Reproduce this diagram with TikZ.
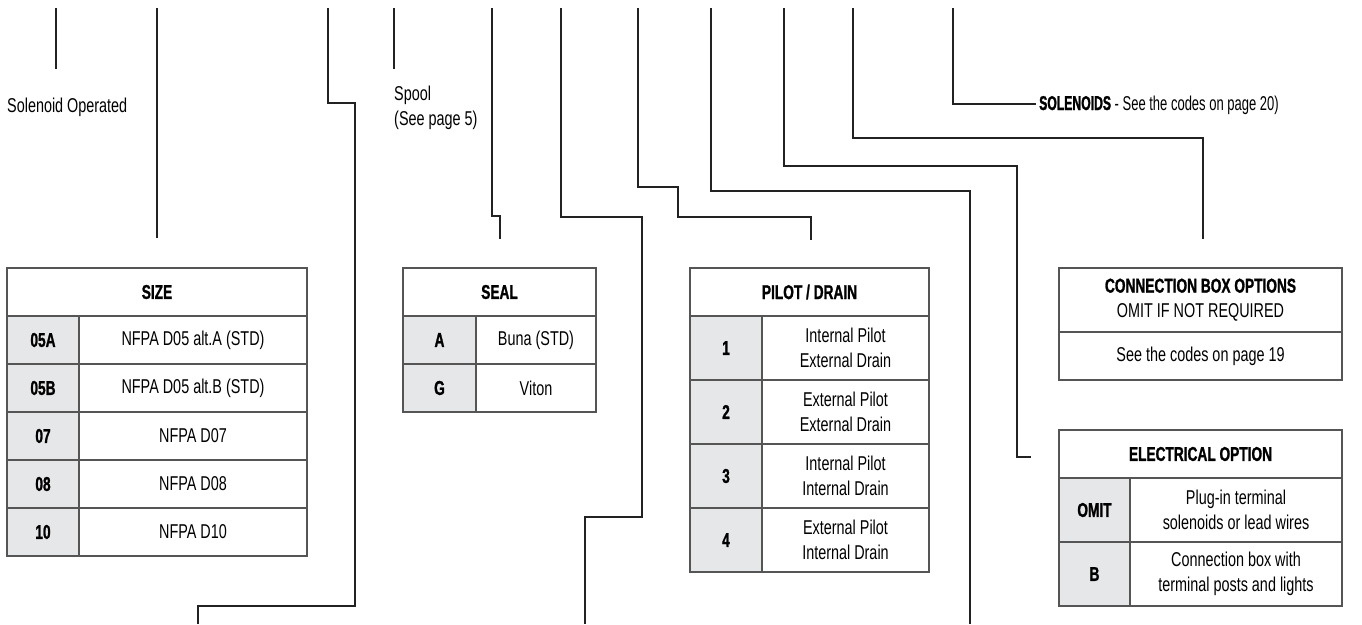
\documentclass[tikz,border=0pt]{standalone}
\usepackage{fontspec}
\setmainfont{Liberation Sans}[FakeStretch=0.72]
\newfontfamily\boldfam{Liberation Sans}[FakeStretch=0.685, BoldFeatures={FakeBold=1.2}]
\newfontfamily\narrowfam{Liberation Sans}[FakeStretch=0.65]
\newfontfamily\narrowboldfam{Liberation Sans}[FakeStretch=0.61, BoldFeatures={FakeBold=1.2}]
\definecolor{codegray}{HTML}{E6E7E9}
\definecolor{tabline}{HTML}{555555}
\definecolor{connline}{HTML}{222222}
\tikzset{
  txt/.style={inner sep=0pt, font=\fontsize{20}{25}\selectfont, align=left},
  cell/.style={draw=tabline, line width=1.1pt, inner sep=0pt, align=center, font=\fontsize{20}{25}\selectfont},
  hdrcell/.style={cell, font=\boldfam\bfseries\fontsize{20}{25}\selectfont},
  codecell/.style={hdrcell, fill=codegray},
  conn/.style={draw=connline, line width=1.1pt},
}
\begin{document}
\begin{tikzpicture}[x=1pt,y=-1pt]
\useasboundingbox (0,0) rectangle (1362,624);

% ---------- labels ----------
\node[txt, anchor=base west] (solop) at (7,112) {Solenoid Operated};
\node[txt, anchor=base west] (spool) at (394,125) {Spool\\(See page 5)};
\node[txt, anchor=base west, font=\narrowfam\fontsize{20}{25}\selectfont] (solen) at (1039,110) {{\narrowboldfam\bfseries SOLENOIDS} - See the codes on page 20)};

% ---------- SIZE ----------
\node[hdrcell, minimum width=300pt, minimum height=48pt] (sizeH) at (157,292) {SIZE};
\node[codecell, minimum width=72pt, minimum height=48pt] (s1c) at (43,340) {05A};
\node[cell, minimum width=228pt, minimum height=48pt] (s1d) at (193,340) {NFPA D05 alt.A (STD)};
\node[codecell, minimum width=72pt, minimum height=48pt] (s2c) at (43,388) {05B};
\node[cell, minimum width=228pt, minimum height=48pt] (s2d) at (193,388) {NFPA D05 alt.B (STD)};
\node[codecell, minimum width=72pt, minimum height=48pt] (s3c) at (43,436) {07};
\node[cell, minimum width=228pt, minimum height=48pt] (s3d) at (193,436) {NFPA D07};
\node[codecell, minimum width=72pt, minimum height=48pt] (s4c) at (43,484) {08};
\node[cell, minimum width=228pt, minimum height=48pt] (s4d) at (193,484) {NFPA D08};
\node[codecell, minimum width=72pt, minimum height=48pt] (s5c) at (43,532) {10};
\node[cell, minimum width=228pt, minimum height=48pt] (s5d) at (193,532) {NFPA D10};

% ---------- SEAL ----------
\node[hdrcell, minimum width=193pt, minimum height=48pt] (sealH) at (499.5,292) {SEAL};
\node[codecell, minimum width=73pt, minimum height=48pt] (e1c) at (439.5,340) {A};
\node[cell, minimum width=120pt, minimum height=48pt] (e1d) at (536,340) {Buna (STD)};
\node[codecell, minimum width=73pt, minimum height=48pt] (e2c) at (439.5,388) {G};
\node[cell, minimum width=120pt, minimum height=48pt] (e2d) at (536,388) {Viton};

% ---------- PILOT / DRAIN ----------
\node[hdrcell, minimum width=239pt, minimum height=48pt] (pilH) at (809.5,292) {PILOT / DRAIN};
\node[codecell, minimum width=72pt, minimum height=64pt] (p1c) at (726,348) {1};
\node[cell, minimum width=167pt, minimum height=64pt] (p1d) at (845.5,348) {Internal Pilot\\External Drain};
\node[codecell, minimum width=72pt, minimum height=64pt] (p2c) at (726,412) {2};
\node[cell, minimum width=167pt, minimum height=64pt] (p2d) at (845.5,412) {External Pilot\\External Drain};
\node[codecell, minimum width=72pt, minimum height=64pt] (p3c) at (726,476) {3};
\node[cell, minimum width=167pt, minimum height=64pt] (p3d) at (845.5,476) {Internal Pilot\\Internal Drain};
\node[codecell, minimum width=72pt, minimum height=64pt] (p4c) at (726,540) {4};
\node[cell, minimum width=167pt, minimum height=64pt] (p4d) at (845.5,540) {External Pilot\\Internal Drain};

% ---------- CONNECTION BOX ----------
\node[cell, minimum width=283pt, minimum height=64pt] (connH) at (1200.5,300) {{\boldfam\bfseries CONNECTION BOX OPTIONS}\\OMIT IF NOT REQUIRED};
\node[cell, minimum width=283pt, minimum height=48pt] (connB) at (1200.5,356) {See the codes on page 19};

% ---------- ELECTRICAL OPTION ----------
\node[hdrcell, minimum width=283pt, minimum height=48pt] (elecH) at (1200.5,454) {ELECTRICAL OPTION};
\node[codecell, minimum width=71pt, minimum height=64pt] (l1c) at (1094.5,510) {OMIT};
\node[cell, minimum width=212pt, minimum height=64pt] (l1d) at (1236,510) {Plug-in terminal\\solenoids or lead wires};
\node[codecell, minimum width=71pt, minimum height=64pt] (l2c) at (1094.5,574) {B};
\node[cell, minimum width=212pt, minimum height=64pt] (l2d) at (1236,574) {Connection box with\\terminal posts and lights};

% ---------- connector coordinates ----------
\coordinate (t1) at (56,8);   \coordinate (b1) at (56,69);
\coordinate (t2) at (157,8);
\coordinate (t3) at (328,8);  \coordinate (b3) at (198,624);
\coordinate (t4) at (394,8);  \coordinate (b4) at (394,69);
\coordinate (t5) at (492,8);
\coordinate (t6) at (561,8);  \coordinate (b6) at (585,624);
\coordinate (t7) at (638,8);
\coordinate (t8) at (711,8);  \coordinate (b8) at (970,624);
\coordinate (t9) at (784,8);
\coordinate (t10) at (853,8);
\coordinate (t11) at (953,8);

% ---------- connectors ----------
\draw[conn] (t1) -- (b1);
\draw[conn] (t2) -- ([yshift=29pt]sizeH.north);
\draw[conn] (t3) -- (328,103) -- (355,103) -- (355,606) -- (198,606) -- (b3);
\draw[conn] (t4) -- (b4);
\draw[conn] (t5) -- (492,216) -- (500,216) -- ([xshift=0.5pt,yshift=28pt]sealH.north);
\draw[conn] (t6) -- (561,217) -- (642,217) -- (642,517) -- (585,517) -- (b6);
\draw[conn] (t7) -- (638,187) -- (678,187) -- (678,217) -- (811,217) -- ([xshift=1.5pt,yshift=27pt]pilH.north);
\draw[conn] (t8) -- (711,191) -- (970,191) -- (b8);
\draw[conn] (t9) -- (784,166) -- (1017,166) -- (1017,457) -- ([xshift=-27pt,yshift=-3pt]elecH.west);
\draw[conn] (t10) -- (853,138) -- (1203,138) -- ([xshift=2.5pt,yshift=28pt]connH.north);
\draw[conn] (t11) -- (953,104) -- ([xshift=-3pt,yshift=6pt]solen.base west);
\end{tikzpicture}
\end{document}
